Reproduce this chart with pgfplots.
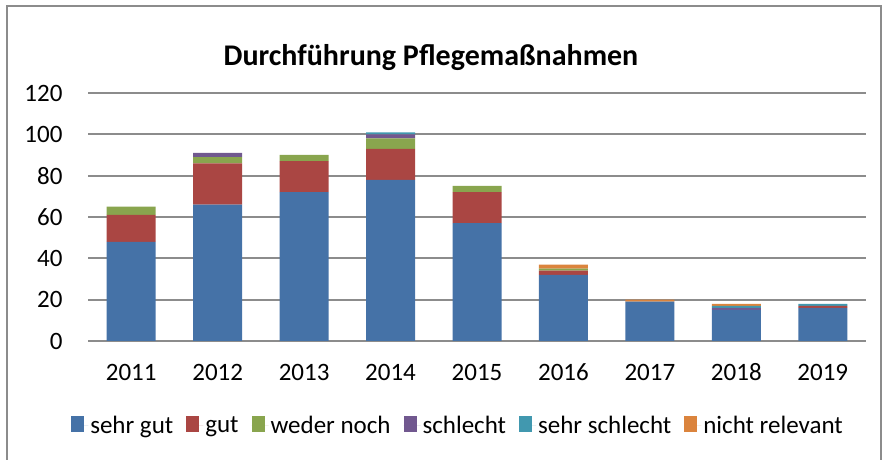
\documentclass[border=0pt]{standalone}
\usepackage{fontspec}
\setmainfont{Carlito}
\usepackage{pgfplots}
\usepackage{pgfplotstable}
\pgfplotsset{compat=1.18}
\definecolor{c1}{HTML}{4572A7}
\definecolor{c2}{HTML}{AA4643}
\definecolor{c3}{HTML}{89A54E}
\definecolor{c4}{HTML}{71588F}
\definecolor{c5}{HTML}{4198AF}
\definecolor{c6}{HTML}{DB843D}
\definecolor{gridc}{HTML}{8C8C8C}
\pgfplotstableread{
x a b c d e f
0 48 13 4 0 0 0
1 66 20 3 2 0 0
2 72 15 3 0 0 0
3 78 15 5 2 1 0
4 57 15 3 0 0 0
5 32 2 1 0 0 2
6 19 0 0 0 0 1
7 15 0 0 1 1 1
8 16 1 0 0 1 0
}\data
\begin{document}
\begin{tikzpicture}[x=1pt,y=1pt]
\useasboundingbox (0,0) rectangle (888,460);
\draw[gridc, line width=1.2pt] (7,0) -- (7,454) -- (881,454) -- (881,0);
\node[font=\fontsize{30}{34}\selectfont\bfseries] at (431,402) {Durchführung Pflegemaßnahmen};
\begin{axis}[at={(88pt,119pt)}, anchor=south west, scale only axis,
  width=778pt, height=248pt,
  ybar stacked, bar width=49pt,
  xmin=-0.5, xmax=8.5, ymin=0, ymax=120,
  ytick={0,20,...,120},
  xtick={0,...,8},
  xticklabels={2011,2012,2013,2014,2015,2016,2017,2018,2019},
  /pgf/number format/assume math mode=true,
  axis x line*=bottom, axis y line*=left,
  y axis line style={draw=none},
  x axis line style={gridc, line width=2pt},
  major tick length=0pt,
  ymajorgrids, grid style={gridc, line width=2pt},
  tick label style={font=\fontsize{25}{29}\selectfont},
  yticklabel style={xshift=-22pt},
  xticklabel style={yshift=-18pt, text height=18pt, text depth=0pt},
  legend style={at={(0.4756,-0.339)}, anchor=center, draw=none,
    font=\fontsize{25}{29}\selectfont,
    /tikz/every even column/.append style={column sep=11pt}},
  legend columns=6,
  legend image code/.code={\path (0pt,0pt) -- (17pt,0pt);\draw[#1, draw=none] (0pt,-7pt) rectangle (13pt,9pt);},
  every axis plot/.append style={draw=none}
]
\addplot[fill=c1] table[x=x,y=a] {\data};
\addplot[fill=c2] table[x=x,y=b] {\data};
\addplot[fill=c3] table[x=x,y=c] {\data};
\addplot[fill=c4] table[x=x,y=d] {\data};
\addplot[fill=c5] table[x=x,y=e] {\data};
\addplot[fill=c6] table[x=x,y=f] {\data};
\legend{sehr gut, gut, weder noch, schlecht, sehr schlecht, nicht relevant}
\end{axis}
\end{tikzpicture}
\end{document}
